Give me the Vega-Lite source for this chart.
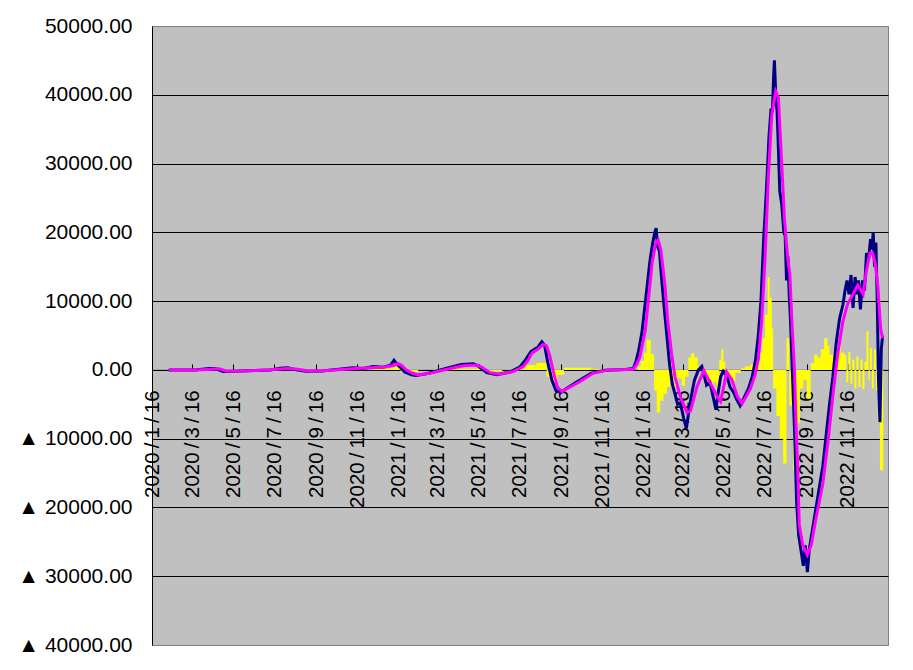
{
  "$schema": "https://vega.github.io/schema/vega-lite/v6.json",
  "width": 736,
  "height": 619,
  "autosize": {"type": "none"},
  "padding": {"left": 152, "top": 26, "right": 25, "bottom": 25},
  "background": "white",
  "config": {
    "view": {"fill": "#C0C0C0", "stroke": "#808080", "strokeWidth": 1},
    "font": "Liberation Sans"
  },
  "datasets": {
    "yellow": [
      {"d": "2020/2/10", "v": 0},
      {"d": "2020/12/10", "v": 200},
      {"d": "2021/1/5", "v": 400},
      {"d": "2021/1/20", "v": -300},
      {"d": "2021/2/15", "v": 0},
      {"d": "2021/4/1", "v": 150},
      {"d": "2021/5/25", "v": -200},
      {"d": "2021/6/20", "v": 0},
      {"d": "2021/7/10", "v": 300},
      {"d": "2021/7/25", "v": 700},
      {"d": "2021/8/10", "v": 1000},
      {"d": "2021/8/25", "v": -1000},
      {"d": "2021/9/1", "v": -1800},
      {"d": "2021/9/10", "v": -700},
      {"d": "2021/9/20", "v": 300},
      {"d": "2021/10/30", "v": 100},
      {"d": "2021/12/1", "v": 0},
      {"d": "2022/1/8", "v": 500},
      {"d": "2022/1/12", "v": 1300},
      {"d": "2022/1/17", "v": 2500},
      {"d": "2022/1/21", "v": 4400},
      {"d": "2022/1/27", "v": 2300},
      {"d": "2022/2/1", "v": -3000},
      {"d": "2022/2/5", "v": -6200},
      {"d": "2022/2/10", "v": -4500},
      {"d": "2022/2/15", "v": -3500},
      {"d": "2022/2/20", "v": -2500},
      {"d": "2022/2/25", "v": -1500},
      {"d": "2022/3/2", "v": -2500},
      {"d": "2022/3/8", "v": -1200},
      {"d": "2022/3/14", "v": -2300},
      {"d": "2022/3/19", "v": -1000},
      {"d": "2022/3/24", "v": 1800},
      {"d": "2022/3/28", "v": 2400},
      {"d": "2022/4/2", "v": 1800},
      {"d": "2022/4/7", "v": 500},
      {"d": "2022/4/14", "v": -300},
      {"d": "2022/4/20", "v": -1500},
      {"d": "2022/4/25", "v": -2500},
      {"d": "2022/4/30", "v": -1800},
      {"d": "2022/5/5", "v": -3000},
      {"d": "2022/5/9", "v": 1500},
      {"d": "2022/5/12", "v": 3000},
      {"d": "2022/5/15", "v": 1200},
      {"d": "2022/5/18", "v": -1500},
      {"d": "2022/5/24", "v": -1000},
      {"d": "2022/5/29", "v": -1600},
      {"d": "2022/6/2", "v": -400},
      {"d": "2022/6/10", "v": 200},
      {"d": "2022/6/16", "v": 500},
      {"d": "2022/6/24", "v": 800},
      {"d": "2022/7/1", "v": 1300},
      {"d": "2022/7/8", "v": 2500},
      {"d": "2022/7/12", "v": 4600},
      {"d": "2022/7/16", "v": 8000},
      {"d": "2022/7/20", "v": 13500},
      {"d": "2022/7/23", "v": 10500},
      {"d": "2022/7/26", "v": 6000},
      {"d": "2022/7/28", "v": -2700},
      {"d": "2022/8/2", "v": -6700},
      {"d": "2022/8/7", "v": -10000},
      {"d": "2022/8/12", "v": -13600},
      {"d": "2022/8/17", "v": 4600},
      {"d": "2022/8/21", "v": -5200},
      {"d": "2022/8/27", "v": -14600},
      {"d": "2022/9/1", "v": -7700},
      {"d": "2022/9/6", "v": -2700},
      {"d": "2022/9/11", "v": -1500},
      {"d": "2022/9/16", "v": -4200},
      {"d": "2022/9/22", "v": 1000},
      {"d": "2022/9/27", "v": 2200},
      {"d": "2022/10/2", "v": 1800},
      {"d": "2022/10/7", "v": 3000},
      {"d": "2022/10/12", "v": 4600},
      {"d": "2022/10/17", "v": 3500},
      {"d": "2022/10/20", "v": 2200},
      {"d": "2022/10/26", "v": 2800},
      {"d": "2022/11/1", "v": 3600},
      {"d": "2022/11/6", "v": 2500},
      {"d": "2022/11/11", "v": 2200},
      {"d": "2022/11/14", "v": -1800},
      {"d": "2022/11/17", "v": 2600},
      {"d": "2022/11/20", "v": -2000},
      {"d": "2022/11/23", "v": 1500},
      {"d": "2022/11/26", "v": -2700},
      {"d": "2022/11/29", "v": 2000},
      {"d": "2022/12/2", "v": -2500},
      {"d": "2022/12/5", "v": 1500},
      {"d": "2022/12/8", "v": -2800},
      {"d": "2022/12/11", "v": 1200},
      {"d": "2022/12/14", "v": 5600},
      {"d": "2022/12/17", "v": -1500},
      {"d": "2022/12/19", "v": 3200},
      {"d": "2022/12/22", "v": -2700},
      {"d": "2022/12/25", "v": 3000},
      {"d": "2022/12/28", "v": -3000},
      {"d": "2022/12/31", "v": -7700},
      {"d": "2023/1/3", "v": -14600},
      {"d": "2023/1/8", "v": 0}
    ],
    "navy": [
      {"d": "2020/2/10", "v": 0},
      {"d": "2020/3/20", "v": 0},
      {"d": "2020/4/10", "v": 200},
      {"d": "2020/4/20", "v": 150},
      {"d": "2020/5/1", "v": -250},
      {"d": "2020/5/20", "v": -200},
      {"d": "2020/6/15", "v": -100},
      {"d": "2020/7/10", "v": 0},
      {"d": "2020/7/25", "v": 250},
      {"d": "2020/8/5", "v": 300},
      {"d": "2020/8/15", "v": 50},
      {"d": "2020/9/1", "v": -200},
      {"d": "2020/9/25", "v": -150},
      {"d": "2020/10/20", "v": 100},
      {"d": "2020/11/10", "v": 300},
      {"d": "2020/11/25", "v": 200},
      {"d": "2020/12/10", "v": 500},
      {"d": "2020/12/25", "v": 400},
      {"d": "2021/1/5", "v": 700},
      {"d": "2021/1/10", "v": 1400},
      {"d": "2021/1/14", "v": 900},
      {"d": "2021/1/20", "v": 300},
      {"d": "2021/1/26", "v": -300},
      {"d": "2021/2/5", "v": -700},
      {"d": "2021/2/12", "v": -800},
      {"d": "2021/2/25", "v": -600},
      {"d": "2021/3/10", "v": -300},
      {"d": "2021/3/28", "v": 200},
      {"d": "2021/4/20", "v": 800},
      {"d": "2021/5/8", "v": 900},
      {"d": "2021/5/15", "v": 600},
      {"d": "2021/5/28", "v": -400},
      {"d": "2021/6/12", "v": -700},
      {"d": "2021/7/2", "v": -300},
      {"d": "2021/7/16", "v": 400},
      {"d": "2021/7/25", "v": 1500},
      {"d": "2021/8/2", "v": 2700},
      {"d": "2021/8/12", "v": 3300},
      {"d": "2021/8/18", "v": 4100},
      {"d": "2021/8/22", "v": 3600},
      {"d": "2021/8/27", "v": 1000},
      {"d": "2021/9/2", "v": -1500},
      {"d": "2021/9/8", "v": -3000},
      {"d": "2021/9/15", "v": -3300},
      {"d": "2021/9/22", "v": -2800},
      {"d": "2021/10/10", "v": -1700},
      {"d": "2021/10/30", "v": -500},
      {"d": "2021/11/20", "v": -50},
      {"d": "2021/12/20", "v": 50},
      {"d": "2022/1/1", "v": 200},
      {"d": "2022/1/5", "v": 1200},
      {"d": "2022/1/9", "v": 2800},
      {"d": "2022/1/14", "v": 5500},
      {"d": "2022/1/18", "v": 9000},
      {"d": "2022/1/22", "v": 12500},
      {"d": "2022/1/26", "v": 16000},
      {"d": "2022/1/30", "v": 18500},
      {"d": "2022/2/2", "v": 20000},
      {"d": "2022/2/4", "v": 20600},
      {"d": "2022/2/6", "v": 18000},
      {"d": "2022/2/9", "v": 17200},
      {"d": "2022/2/12", "v": 13500},
      {"d": "2022/2/16", "v": 9000},
      {"d": "2022/2/20", "v": 5000},
      {"d": "2022/2/24", "v": 800},
      {"d": "2022/2/28", "v": -2000},
      {"d": "2022/3/4", "v": -3500},
      {"d": "2022/3/8", "v": -5000},
      {"d": "2022/3/12", "v": -4800},
      {"d": "2022/3/17", "v": -7000},
      {"d": "2022/3/21", "v": -8500},
      {"d": "2022/3/24", "v": -6500},
      {"d": "2022/3/28", "v": -4000},
      {"d": "2022/4/2", "v": -1500},
      {"d": "2022/4/8", "v": 0},
      {"d": "2022/4/13", "v": 500},
      {"d": "2022/4/17", "v": -1000},
      {"d": "2022/4/20", "v": -2200},
      {"d": "2022/4/25", "v": -1800},
      {"d": "2022/4/30", "v": -4000},
      {"d": "2022/5/4", "v": -5800},
      {"d": "2022/5/7", "v": -3500},
      {"d": "2022/5/11", "v": -1000},
      {"d": "2022/5/15", "v": -200},
      {"d": "2022/5/20", "v": -800},
      {"d": "2022/5/25", "v": -2500},
      {"d": "2022/5/30", "v": -3200},
      {"d": "2022/6/4", "v": -4300},
      {"d": "2022/6/9", "v": -5200},
      {"d": "2022/6/15", "v": -4000},
      {"d": "2022/6/21", "v": -2800},
      {"d": "2022/6/27", "v": -1000},
      {"d": "2022/7/2", "v": 1500},
      {"d": "2022/7/6", "v": 5000},
      {"d": "2022/7/10", "v": 10000},
      {"d": "2022/7/14", "v": 19000},
      {"d": "2022/7/18", "v": 26000},
      {"d": "2022/7/22", "v": 34000},
      {"d": "2022/7/25", "v": 38000},
      {"d": "2022/7/27", "v": 37500},
      {"d": "2022/7/29", "v": 43000},
      {"d": "2022/7/30", "v": 45000},
      {"d": "2022/8/1", "v": 40000},
      {"d": "2022/8/3", "v": 37500},
      {"d": "2022/8/5", "v": 32000},
      {"d": "2022/8/7", "v": 26000},
      {"d": "2022/8/10", "v": 24000},
      {"d": "2022/8/13", "v": 20000},
      {"d": "2022/8/15", "v": 19500},
      {"d": "2022/8/17", "v": 13000},
      {"d": "2022/8/19", "v": 16500},
      {"d": "2022/8/21", "v": 11000},
      {"d": "2022/8/23", "v": 7000},
      {"d": "2022/8/26", "v": -1000},
      {"d": "2022/8/29", "v": -9000},
      {"d": "2022/9/1", "v": -19000},
      {"d": "2022/9/4", "v": -24000},
      {"d": "2022/9/8", "v": -26500},
      {"d": "2022/9/11", "v": -28500},
      {"d": "2022/9/14", "v": -25500},
      {"d": "2022/9/17", "v": -29400},
      {"d": "2022/9/20", "v": -26000},
      {"d": "2022/9/25", "v": -23000},
      {"d": "2022/9/30", "v": -20000},
      {"d": "2022/10/5", "v": -17000},
      {"d": "2022/10/10", "v": -14000},
      {"d": "2022/10/15", "v": -9500},
      {"d": "2022/10/20", "v": -5000},
      {"d": "2022/10/25", "v": -1000},
      {"d": "2022/10/30", "v": 4000},
      {"d": "2022/11/4", "v": 7500},
      {"d": "2022/11/9", "v": 9500},
      {"d": "2022/11/12", "v": 11500},
      {"d": "2022/11/15", "v": 13000},
      {"d": "2022/11/18", "v": 11000},
      {"d": "2022/11/21", "v": 13800},
      {"d": "2022/11/24", "v": 9000},
      {"d": "2022/11/27", "v": 13500},
      {"d": "2022/11/30", "v": 11000},
      {"d": "2022/12/2", "v": 13000},
      {"d": "2022/12/5", "v": 8800},
      {"d": "2022/12/8", "v": 13000},
      {"d": "2022/12/11", "v": 11500},
      {"d": "2022/12/14", "v": 17000},
      {"d": "2022/12/17", "v": 16000},
      {"d": "2022/12/20", "v": 19000},
      {"d": "2022/12/22", "v": 17500},
      {"d": "2022/12/24", "v": 20000},
      {"d": "2022/12/26", "v": 15000},
      {"d": "2022/12/28", "v": 18500},
      {"d": "2022/12/30", "v": 10000},
      {"d": "2023/1/1", "v": -2000},
      {"d": "2023/1/3", "v": -7600},
      {"d": "2023/1/5", "v": 3000},
      {"d": "2023/1/7", "v": 5000}
    ],
    "magenta": [
      {"d": "2020/2/10", "v": 0},
      {"d": "2020/3/20", "v": 0},
      {"d": "2020/4/15", "v": 100},
      {"d": "2020/4/25", "v": 150},
      {"d": "2020/5/5", "v": -150},
      {"d": "2020/5/25", "v": -200},
      {"d": "2020/6/20", "v": -100},
      {"d": "2020/7/15", "v": 50},
      {"d": "2020/8/5", "v": 200},
      {"d": "2020/8/20", "v": 100},
      {"d": "2020/9/5", "v": -150},
      {"d": "2020/10/1", "v": -100},
      {"d": "2020/10/25", "v": 50},
      {"d": "2020/11/15", "v": 200},
      {"d": "2020/12/5", "v": 300},
      {"d": "2020/12/25", "v": 400},
      {"d": "2021/1/8", "v": 600},
      {"d": "2021/1/16", "v": 950},
      {"d": "2021/1/22", "v": 600},
      {"d": "2021/1/28", "v": 0},
      {"d": "2021/2/6", "v": -450},
      {"d": "2021/2/15", "v": -730},
      {"d": "2021/2/25", "v": -600},
      {"d": "2021/3/9", "v": -400},
      {"d": "2021/3/30", "v": 100},
      {"d": "2021/4/23", "v": 600},
      {"d": "2021/5/13", "v": 700},
      {"d": "2021/5/20", "v": 450},
      {"d": "2021/6/2", "v": -400},
      {"d": "2021/6/17", "v": -630},
      {"d": "2021/7/6", "v": -250},
      {"d": "2021/7/21", "v": 450},
      {"d": "2021/7/28", "v": 1300},
      {"d": "2021/8/3", "v": 2400},
      {"d": "2021/8/12", "v": 3000},
      {"d": "2021/8/20", "v": 3700},
      {"d": "2021/8/25", "v": 3500},
      {"d": "2021/8/30", "v": 2000},
      {"d": "2021/9/4", "v": -200},
      {"d": "2021/9/10", "v": -2500},
      {"d": "2021/9/17", "v": -3150},
      {"d": "2021/9/25", "v": -2700},
      {"d": "2021/10/14", "v": -1700},
      {"d": "2021/11/2", "v": -500},
      {"d": "2021/11/25", "v": 0},
      {"d": "2021/12/20", "v": 50},
      {"d": "2022/1/1", "v": 100},
      {"d": "2022/1/6", "v": 800},
      {"d": "2022/1/11", "v": 1900},
      {"d": "2022/1/19", "v": 5800},
      {"d": "2022/1/24", "v": 10600},
      {"d": "2022/1/29", "v": 15500},
      {"d": "2022/2/3", "v": 18300},
      {"d": "2022/2/7", "v": 18900},
      {"d": "2022/2/11", "v": 17500},
      {"d": "2022/2/17", "v": 12500},
      {"d": "2022/2/21", "v": 7500},
      {"d": "2022/2/27", "v": 2400},
      {"d": "2022/3/4", "v": -1000},
      {"d": "2022/3/12", "v": -3900},
      {"d": "2022/3/22", "v": -6200},
      {"d": "2022/3/27", "v": -6000},
      {"d": "2022/4/6", "v": -2400},
      {"d": "2022/4/16", "v": -100},
      {"d": "2022/4/26", "v": -2000},
      {"d": "2022/5/6", "v": -3900},
      {"d": "2022/5/11", "v": -4600},
      {"d": "2022/5/20", "v": -300},
      {"d": "2022/5/28", "v": -1500},
      {"d": "2022/6/5", "v": -3900},
      {"d": "2022/6/12", "v": -4900},
      {"d": "2022/6/24", "v": -2800},
      {"d": "2022/7/1", "v": -800},
      {"d": "2022/7/6", "v": 1500},
      {"d": "2022/7/11", "v": 7000},
      {"d": "2022/7/16", "v": 16000},
      {"d": "2022/7/21", "v": 28000},
      {"d": "2022/7/26", "v": 37000},
      {"d": "2022/8/1", "v": 40500},
      {"d": "2022/8/5", "v": 39600},
      {"d": "2022/8/9", "v": 31700},
      {"d": "2022/8/14", "v": 21900},
      {"d": "2022/8/19", "v": 16000},
      {"d": "2022/8/22", "v": 14000},
      {"d": "2022/8/25", "v": 7100},
      {"d": "2022/8/29", "v": -300},
      {"d": "2022/8/31", "v": -7700},
      {"d": "2022/9/3", "v": -15100},
      {"d": "2022/9/5", "v": -22500},
      {"d": "2022/9/10", "v": -25400},
      {"d": "2022/9/17", "v": -26900},
      {"d": "2022/9/23", "v": -25400},
      {"d": "2022/9/30", "v": -21500},
      {"d": "2022/10/10", "v": -16600},
      {"d": "2022/10/18", "v": -10200},
      {"d": "2022/10/25", "v": -3750},
      {"d": "2022/11/1", "v": 2200},
      {"d": "2022/11/9", "v": 7100},
      {"d": "2022/11/16", "v": 9600},
      {"d": "2022/11/24", "v": 11000},
      {"d": "2022/12/1", "v": 12300},
      {"d": "2022/12/9", "v": 11000},
      {"d": "2022/12/14", "v": 14500},
      {"d": "2022/12/19", "v": 17000},
      {"d": "2022/12/23", "v": 17000},
      {"d": "2022/12/27", "v": 15500},
      {"d": "2022/12/31", "v": 12000},
      {"d": "2023/1/4", "v": 6000},
      {"d": "2023/1/7", "v": 4600}
    ]
  },
  "encoding": {
    "x": {
      "field": "d",
      "type": "temporal",
      "scale": {
        "domain": [
          {"year": 2020, "month": 1, "date": 16},
          {"year": 2023, "month": 1, "date": 15}
        ]
      },
      "axis": {
        "values": [
          {"year": 2020, "month": 1, "date": 16},
          {"year": 2020, "month": 3, "date": 16},
          {"year": 2020, "month": 5, "date": 16},
          {"year": 2020, "month": 7, "date": 16},
          {"year": 2020, "month": 9, "date": 16},
          {"year": 2020, "month": 11, "date": 16},
          {"year": 2021, "month": 1, "date": 16},
          {"year": 2021, "month": 3, "date": 16},
          {"year": 2021, "month": 5, "date": 16},
          {"year": 2021, "month": 7, "date": 16},
          {"year": 2021, "month": 9, "date": 16},
          {"year": 2021, "month": 11, "date": 16},
          {"year": 2022, "month": 1, "date": 16},
          {"year": 2022, "month": 3, "date": 16},
          {"year": 2022, "month": 5, "date": 16},
          {"year": 2022, "month": 7, "date": 16},
          {"year": 2022, "month": 9, "date": 16},
          {"year": 2022, "month": 11, "date": 16}
        ],
        "format": "%Y\u2009/\u2009%-m\u2009/\u2009%-d",
        "title": null,
        "grid": false,
        "offset": {"expr": "scale('y', 0) - height"},
        "labelAngle": 270,
        "labelAlign": "right",
        "labelBaseline": "middle",
        "labelFontSize": 20.5,
        "labelColor": "black",
        "labelPadding": 26,
        "labelFlush": false,
        "labelOverlap": false,
        "tickSize": -6,
        "tickColor": "black",
        "domainColor": "black"
      }
    },
    "y": {
      "field": "v",
      "type": "quantitative",
      "scale": {"domain": [-40000, 50000], "nice": false, "zero": false},
      "axis": {
        "values": [-40000, -30000, -20000, -10000, 0, 10000, 20000, 30000, 40000, 50000],
        "labelExpr": "datum.value < 0 ? '▲ ' + format(-datum.value, '.2f') : format(datum.value, '.2f')",
        "title": null,
        "ticks": false,
        "labelFontSize": 21,
        "labelColor": "black",
        "labelPadding": 20,
        "domainColor": "black",
        "gridColor": {
          "condition": {"test": "datum.value == 50000 || datum.value == -40000", "value": "#808080"},
          "value": "black"
        },
        "gridOpacity": 1
      }
    }
  },
  "layer": [
    {
      "data": {"name": "yellow"},
      "mark": {"type": "area", "interpolate": "step-after", "color": "#FFFF00"},
      "encoding": {"y2": {"datum": 0}}
    },
    {
      "data": {"name": "navy"},
      "mark": {"type": "line", "color": "#000080", "strokeWidth": 3}
    },
    {
      "data": {"name": "magenta"},
      "mark": {"type": "line", "color": "#FF00FF", "strokeWidth": 3}
    }
  ]
}
